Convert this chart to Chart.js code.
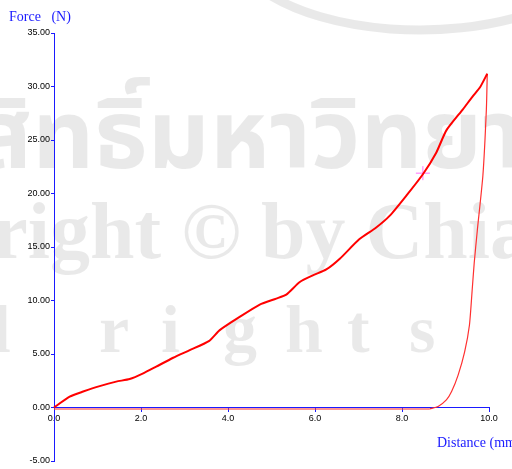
<!DOCTYPE html>
<html>
<head>
<meta charset="utf-8">
<script src="https://cdn.jsdelivr.net/npm/chart.js@4"></script>
<style>
  html, body { margin: 0; padding: 0; background: #fff; }
  #wrap { width: 512px; height: 469px; }
</style>
</head>
<body>
<div id="wrap"><canvas id="forceChart"></canvas></div>
<script>
const loadX = [0, 0.36, 0.67, 1.05, 1.43, 1.74, 2.05, 2.35, 2.74, 3.12, 3.56, 3.81, 4.27, 4.73, 5.11, 5.34, 5.65, 5.95, 6.26, 6.57, 7.01, 7.4, 7.72, 8.1, 8.48, 8.79, 9.02, 9.4, 9.63, 9.79, 9.96];
const loadY = [0, 1.02, 1.49, 2.0, 2.42, 2.66, 3.19, 3.82, 4.65, 5.36, 6.2, 7.23, 8.47, 9.62, 10.18, 10.55, 11.73, 12.35, 12.9, 13.9, 15.7, 16.8, 17.93, 19.8, 21.8, 23.84, 25.9, 27.87, 29.1, 29.9, 31.2];
const unloadX = [9.96, 9.94, 9.86, 9.73, 9.66, 9.61, 9.55, 9.44, 9.29, 9.14, 9.02, 8.83, 8.64];
const unloadY = [31.2, 27.9, 21.7, 16.5, 13.5, 10.8, 7.69, 5.2, 3.03, 1.49, 0.71, 0.1, -0.13];
const returnX = [8.64, 0];
const returnY = [-0.15, -0.15];
const markerX = [8.48];
const markerY = [21.9];
const xTicks = [0, 2, 4, 6, 8, 10];
const yTicks = [-5, 0, 5, 10, 15, 20, 25, 30, 35];

const toPoints = (xs, ys) => xs.map((x, i) => ({ x, y: ys[i] }));

const tickFont = { family: 'Liberation Sans, Arial, sans-serif', size: 9 };
const titleFont = '14px "Liberation Serif", "Times New Roman", serif';
const blue = '#1a1aff';

// faint copyright watermark behind the plot
const watermark = {
  id: 'watermark',
  beforeDraw(chart) {
    const ctx = chart.ctx;
    ctx.save();
    ctx.fillStyle = 'rgba(0,0,0,0.085)';
    ctx.strokeStyle = 'rgba(0,0,0,0.085)';
    ctx.lineWidth = 9;
    ctx.beginPath();
    ctx.ellipse(420, -60, 190, 90, 0, 0.05 * Math.PI, 0.8 * Math.PI);
    ctx.stroke();
    ctx.font = 'bold 96px "Noto Sans Thai", "Noto Serif Thai", "Loma", serif';
    ctx.fillText('ลิขสิทธิ์มหาวิทยาลัยเชียงใหม่', -140, 168);
    ctx.font = 'bold 80px "Liberation Serif", "DejaVu Serif", serif';
    ctx.fillText('Copyright © by Chiang Mai University', -190, 258);
    ctx.font = 'bold 68px "Liberation Serif", "DejaVu Serif", serif';
    const letters = ['l', 'r', 'i', 'g', 'h', 't', 's'];
    letters.forEach((c, i) => ctx.fillText(c, -8 + i * 62 + (i > 0 ? 45 : 0), 352));
    ctx.restore();
  }
};

// axis captions drawn in the old instrument style
const captions = {
  id: 'captions',
  afterDraw(chart) {
    const ctx = chart.ctx;
    const y0 = chart.scales.y.getPixelForValue(0);
    ctx.save();
    ctx.fillStyle = blue;
    ctx.font = titleFont;
    ctx.textBaseline = 'alphabetic';
    ctx.fillText('Force   (N)', 9, 21);
    ctx.fillText('Distance (mm)', 437, y0 + 39);
    ctx.restore();
  }
};

const noPad = s => { s.paddingTop = 0; s.paddingBottom = 0; s.paddingLeft = 0; s.paddingRight = 0; };

new Chart(document.getElementById('forceChart'), {
  type: 'scatter',
  data: {
    datasets: [
      {
        data: toPoints(loadX, loadY),
        showLine: true,
        borderColor: '#ff0000',
        borderWidth: 2,
        pointRadius: 0,
        tension: 0.2,
        clip: false
      },
      {
        data: toPoints(unloadX, unloadY),
        showLine: true,
        borderColor: '#ff3030',
        borderWidth: 1.2,
        pointRadius: 0,
        tension: 0.2,
        clip: false
      },
      {
        data: toPoints(returnX, returnY),
        showLine: true,
        borderColor: 'rgba(255,60,60,0.55)',
        borderWidth: 2,
        pointRadius: 0,
        clip: false
      },
      {
        data: toPoints(markerX, markerY),
        showLine: false,
        pointStyle: 'cross',
        pointRadius: 7,
        borderColor: '#ff70ff',
        borderWidth: 1,
        clip: false
      }
    ]
  },
  options: {
    responsive: true,
    maintainAspectRatio: false,
    animation: false,
    layout: { padding: { left: 0, right: 23, top: 33, bottom: 0 } },
    plugins: {
      legend: { display: false },
      tooltip: { enabled: false },
      title: { display: false }
    },
    scales: {
      x: {
        type: 'linear',
        position: { y: 0 },
        min: 0,
        max: 10,
        afterBuildTicks: s => { s.ticks = xTicks.map(v => ({ value: v })); },
        afterFit: noPad,
        ticks: {
          color: '#000',
          font: tickFont,
          padding: 2,
          maxRotation: 0,
          callback: v => v.toFixed(1)
        },
        grid: { drawOnChartArea: false, drawTicks: true, tickLength: 4, color: blue },
        border: { color: blue, width: 1 },
        title: { display: false }
      },
      y: {
        type: 'linear',
        position: 'left',
        min: -5,
        max: 35,
        afterBuildTicks: s => { s.ticks = yTicks.map(v => ({ value: v })); },
        afterFit: s => { noPad(s); s.width = 54; },
        ticks: {
          color: '#000',
          font: tickFont,
          padding: 1,
          callback: v => v.toFixed(2)
        },
        grid: { drawOnChartArea: false, drawTicks: true, tickLength: 3, color: blue },
        border: { color: blue, width: 1 }
      }
    }
  },
  plugins: [watermark, captions]
});
</script>
</body>
</html>
